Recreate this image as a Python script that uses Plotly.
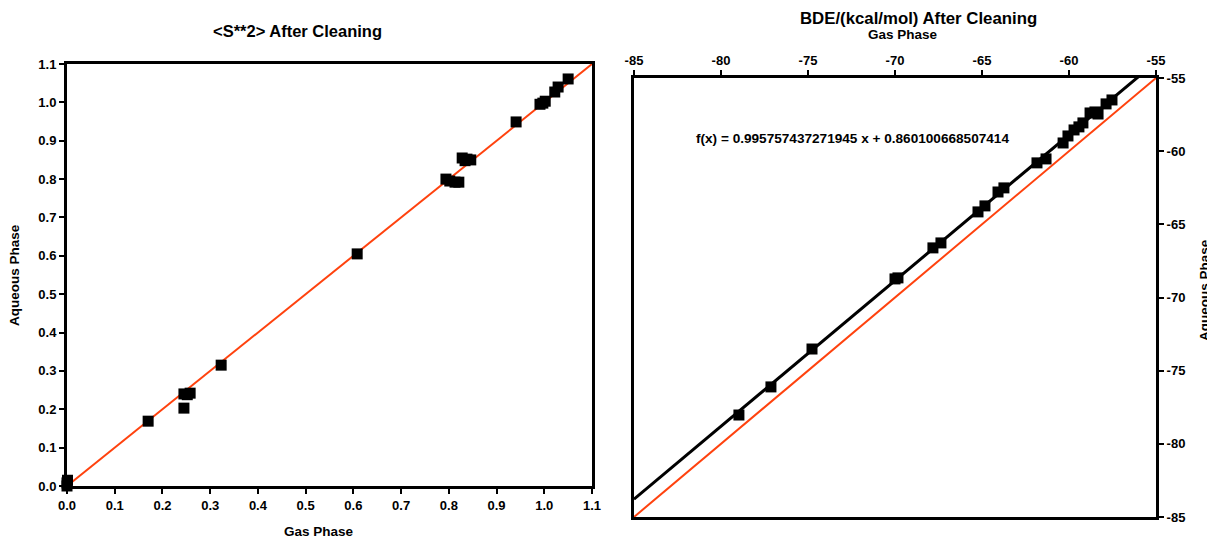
import plotly.graph_objects as go

# ---- Left chart: <S**2> After Cleaning ----
s2_gas = [0.0, 0.0, 0.001, 0.170, 0.245, 0.245, 0.252, 0.258, 0.323, 0.608,
          0.794, 0.802, 0.813, 0.821, 0.828, 0.838, 0.846, 0.834,
          0.941, 0.991, 0.997, 1.002, 1.022, 1.029, 1.050]
s2_aq = [0.0, 0.008, 0.015, 0.169, 0.203, 0.240, 0.238, 0.242, 0.315, 0.605,
         0.800, 0.795, 0.792, 0.792, 0.855, 0.852, 0.850, 0.848,
         0.949, 0.995, 0.998, 1.003, 1.027, 1.040, 1.061]
s2_range = [0.0, 1.1]

# ---- Right chart: BDE/(kcal/mol) After Cleaning ----
bde_gas = [-78.97, -77.13, -74.77, -70.00, -69.83, -67.82, -67.36, -65.23, -64.83,
           -64.08, -63.74, -61.84, -61.32, -60.34, -60.06, -59.71, -59.43, -59.20,
           -58.79, -58.51, -58.33, -57.87, -57.53]
bde_aq = [-78.03, -76.11, -73.52, -68.73, -68.66, -66.61, -66.27, -64.15, -63.74,
          -62.79, -62.51, -60.80, -60.53, -59.44, -58.96, -58.55, -58.34, -58.07,
          -57.39, -57.32, -57.46, -56.77, -56.50]
bde_range = [-85, -55]
bde_ticks = [-85, -80, -75, -70, -65, -60, -55]
bde_ticklabels = ["-85", "-80", "-75", "-70", "-65", "-60", "-55"]
fit_slope = 0.995757437271945
fit_intercept = 0.860100668507414
fit_label = "f(x) = 0.995757437271945 x + 0.860100668507414"

RED = "#FF420E"
FONT = "Liberation Sans"

fig = go.Figure()

fig.add_trace(go.Scatter(x=s2_range, y=s2_range, mode="lines",
                         line=dict(color=RED, width=2), xaxis="x", yaxis="y",
                         showlegend=False, hoverinfo="skip"))
fig.add_trace(go.Scatter(x=s2_gas, y=s2_aq, mode="markers",
                         marker=dict(symbol="square", size=11, color="black"),
                         xaxis="x", yaxis="y", showlegend=False, cliponaxis=False))

fit_y = [fit_slope * v + fit_intercept for v in bde_range]
fig.add_trace(go.Scatter(x=bde_range, y=fit_y, mode="lines",
                         line=dict(color="black", width=3), xaxis="x2", yaxis="y2",
                         showlegend=False, hoverinfo="skip"))
fig.add_trace(go.Scatter(x=bde_range, y=bde_range, mode="lines",
                         line=dict(color=RED, width=2), xaxis="x2", yaxis="y2",
                         showlegend=False, hoverinfo="skip"))
fig.add_trace(go.Scatter(x=bde_gas, y=bde_aq, mode="markers",
                         marker=dict(symbol="square", size=11, color="black"),
                         xaxis="x2", yaxis="y2", showlegend=False))

# page body has an 8px margin; the figure is sized to fit the window exactly
OFF = 8
W, H = 1215 - OFF, 540 - OFF


def fx(px):
    return (px - OFF) / W


def fy(py):
    return 1 - (py - OFF) / H


tickfont = dict(family=FONT, size=13, color="black", weight="bold")
common = dict(showline=True, linecolor="black", linewidth=3, mirror=True,
              ticks="outside", ticklen=5, tickwidth=2, tickcolor="black",
              showgrid=False, zeroline=False, tickfont=tickfont, automargin=False)

fig.update_layout(
    width=W, height=H, autosize=False,
    margin=dict(l=0, r=0, t=0, b=0, pad=0),
    paper_bgcolor="white", plot_bgcolor="white",
    font=dict(family=FONT, color="black"),
    xaxis=dict(domain=[fx(67), fx(592)], range=s2_range, dtick=0.1,
               tickformat=".1f", anchor="y", **common),
    yaxis=dict(domain=[fy(486), fy(64)], range=s2_range, dtick=0.1,
               tickformat=".1f", anchor="x", **common),
    xaxis2=dict(domain=[fx(634), fx(1156)], range=bde_range,
                tickvals=bde_ticks, ticktext=bde_ticklabels,
                side="top", anchor="y2", **common),
    yaxis2=dict(domain=[fy(517), fy(78)], range=bde_range,
                tickvals=bde_ticks, ticktext=bde_ticklabels,
                side="right", anchor="x2", **common),
)


def font(size):
    return dict(family=FONT, size=size, color="black", weight="bold")


def note(text, px, py, size, angle=0):
    fig.add_annotation(text="<b>" + text + "</b>", x=fx(px), y=fy(py),
                       xref="paper", yref="paper", showarrow=False, font=font(size),
                       textangle=angle, xanchor="center", yanchor="middle")


note("<S**2> After Cleaning", 297, 31, 16.5)
note("Gas Phase", 319, 531, 13.5)
note("Aqueous Phase", 14, 275, 13.5, -90)
note("BDE/(kcal/mol) After Cleaning", 918, 18, 16.8)
note("Gas Phase", 903, 35, 13.5)
note("Aqueous Phase", 1204, 290, 13.5, -90)
note(fit_label, 852, 138, 13.6)

fig.write_html("out.html")
